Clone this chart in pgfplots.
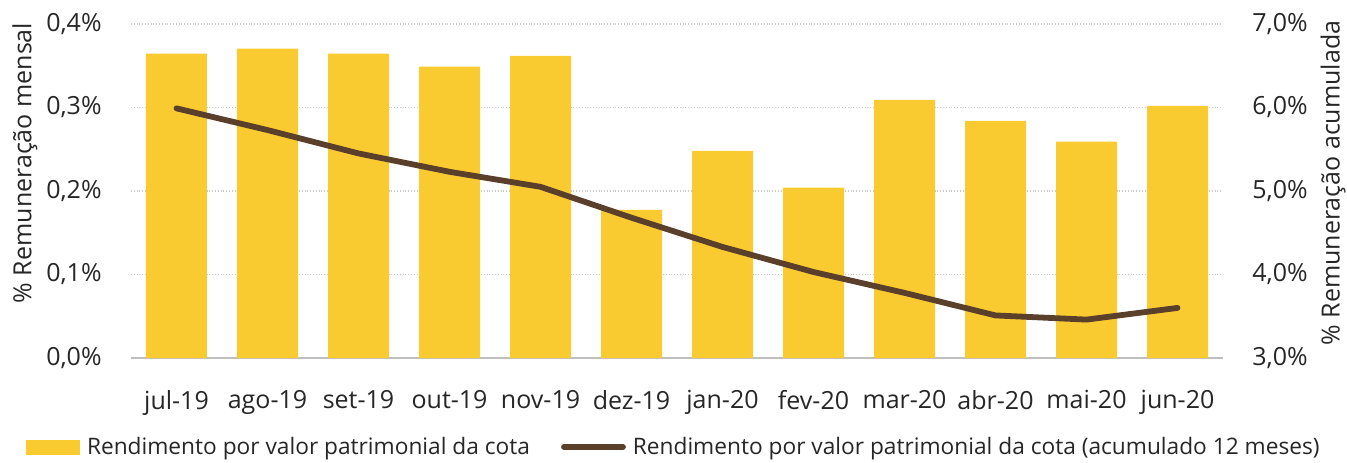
\documentclass[border=0pt]{standalone}
\usepackage{pgfplots}
\pgfplotsset{compat=1.18}
\usepackage{fontspec}
\setmainfont{Open Sans}
\definecolor{barc}{HTML}{F9CB30}
\definecolor{linec}{HTML}{5A3F2B}
\definecolor{gridc}{HTML}{C8C8C8}
\definecolor{basec}{HTML}{BFBFBF}
\definecolor{txt}{HTML}{262626}
\newcommand\f{\fontsize{12.5}{14}\selectfont}
\newcommand\lf{\fontsize{11.35}{13}\selectfont}
\begin{document}
\begin{tikzpicture}
\useasboundingbox (-65.5pt,-52pt) rectangle (608pt,179pt);
\begin{axis}[
  at={(0,0)}, anchor=south west,
  scale only axis, width=546pt, height=167pt,
  xmin=-0.5, xmax=11.5, ymin=0, ymax=0.4,
  ytick={0,0.1,0.2,0.3,0.4},
  xtick={0,...,11},
  xticklabels={jul-19,ago-19,set-19,out-19,nov-19,dez-19,jan-20,fev-20,mar-20,abr-20,mai-20,jun-20},
  axis x line*=bottom, axis y line*=left,
  x axis line style={draw=basec, line width=0.8pt, -},
  y axis line style={draw=none},
  major tick length=0pt,
  ymajorgrids, grid style={gridc, densely dotted, line width=0.8pt},
  /pgf/number format/assume math mode=true,
  yticklabel={\pgfmathprintnumber[fixed,fixed zerofill,precision=1,use comma]{\tick}\%},
  tick label style={font=\f, text=txt},
  yticklabel style={inner sep=0pt},
  yticklabel shift=14.5pt,
  xticklabel style={inner sep=0pt},
  xticklabel shift=16pt,
  ylabel={\% Remuneração mensal},
  ylabel style={at={(axis description cs:0,0.584)}, yshift=53pt, anchor=center, font=\f, text=txt},
  clip=false,
]
\addplot[ybar, bar width=30.5pt, fill=barc, draw=none] coordinates {
 (0,0.3645) (1,0.3705) (2,0.3645) (3,0.349) (4,0.3617) (5,0.1775)
 (6,0.248) (7,0.204) (8,0.309) (9,0.284) (10,0.259) (11,0.302)};
\end{axis}
\begin{axis}[
  at={(0,0)}, anchor=south west,
  scale only axis, width=546pt, height=167pt,
  xmin=-0.5, xmax=11.5, ymin=3, ymax=7,
  ytick={3,4,5,6,7},
  axis x line=none, axis y line*=right,
  y axis line style={draw=none},
  major tick length=0pt,
  /pgf/number format/assume math mode=true,
  yticklabel={\pgfmathprintnumber[fixed,fixed zerofill,precision=1,use comma]{\tick}\%},
  tick label style={font=\f, text=txt},
  yticklabel style={inner sep=0pt},
  yticklabel shift=14.5pt,
  ylabel={\% Remuneração acumulada},
  ylabel style={at={(axis description cs:1,0.524)}, yshift=-55pt, anchor=center, font=\f, text=txt},
  legend style={at={(axis description cs:0.4995,-0.2665)}, anchor=center, draw=none, fill=none,
    legend columns=2, font=\lf, text=txt,
    nodes={inner xsep=3.5pt},
    /tikz/every even column/.append style={column sep=12pt}},
  legend cell align=left,
  clip=false,
]
\addlegendimage{legend image code/.code={\fill[barc] (0pt,-3.5pt) rectangle (26.5pt,3.5pt);}}
\addlegendentry{Rendimento por valor patrimonial da cota}
\addplot[linec, line width=2.9pt, line cap=round, line join=round,
  legend image code/.code={\draw[linec, line width=2.9pt, line cap=round] (0pt,0pt) -- (29.5pt,0pt);}] coordinates {
 (0,5.99) (1,5.73) (2,5.45) (3,5.23) (4,5.05) (5,4.68)
 (6,4.33) (7,4.03) (8,3.78) (9,3.51) (10,3.46) (11,3.60)};
\addlegendentry{Rendimento por valor patrimonial da cota (acumulado 12 meses)}
\end{axis}
\end{tikzpicture}
\end{document}
